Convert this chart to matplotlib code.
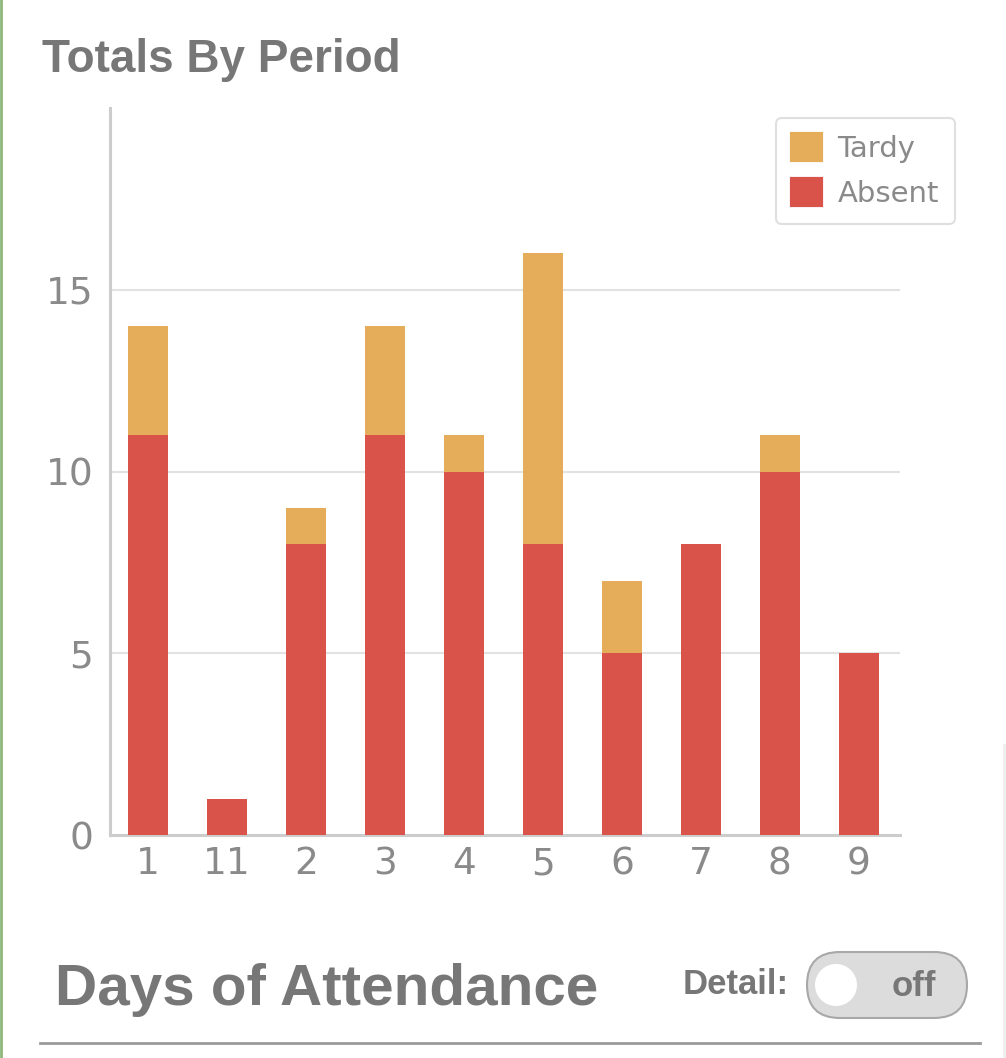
import matplotlib
matplotlib.use("Agg")
import matplotlib.pyplot as plt
from matplotlib.patches import FancyBboxPatch, Circle, Patch
from matplotlib.lines import Line2D

categories = ['1', '11', '2', '3', '4', '5', '6', '7', '8', '9']
absent = [11, 1, 8, 11, 10, 8, 5, 8, 10, 5]
tardy = [3, 0, 1, 3, 1, 8, 2, 0, 1, 0]
yticks = [0, 5, 10, 15]

C_ABSENT = '#D9534A'
C_TARDY = '#E5AD5A'
GRAY_TXT = '#8a8a8a'
TITLE_C = '#777777'

W, H = 1006, 1058
fig = plt.figure(figsize=(W / 100, H / 100), dpi=100)

# overlay for page decorations in pixel coords
bg = fig.add_axes([0, 0, 1, 1], zorder=0)
bg.set_xlim(0, W)
bg.set_ylim(H, 0)
bg.axis('off')
bg.add_line(Line2D([1.5, 1.5], [0, H], color='#8fb67a', lw=2))
bg.add_line(Line2D([1004, 1004], [745, H], color='#eeeeee', lw=2))
bg.add_line(Line2D([40, 980], [1043, 1043], color='#9a9a9a', lw=2))
bg.text(42, 60, 'Totals By Period', fontsize=33, fontweight='bold',
        color=TITLE_C, family='Liberation Sans', ha='left', va='center')
bg.text(55, 990, 'Days of Attendance', fontsize=42, fontweight='bold',
        color=TITLE_C, family='Liberation Sans', ha='left', va='center')
bg.text(683, 985, 'Detail:', fontsize=25, fontweight='bold',
        color=TITLE_C, family='Liberation Sans', ha='left', va='center')
tog = FancyBboxPatch((807, 952), 160, 66, boxstyle='round,pad=0,rounding_size=33',
                     facecolor='#dcdcdc', edgecolor='#a8a8a8', lw=1.5)
bg.add_patch(tog)
bg.add_patch(Circle((836, 985), 21, facecolor='white', edgecolor='none'))
bg.text(914, 987, 'off', fontsize=25, fontweight='bold', color=TITLE_C,
        family='Liberation Sans', ha='center', va='center')

ax = fig.add_axes([110 / W, 1 - 835 / H, 790 / W, (835 - 108) / H], zorder=1)
ax.patch.set_alpha(0)
x = list(range(len(categories)))
ax.bar(x, absent, width=0.5, color=C_ABSENT, label='Absent', zorder=3)
ax.bar(x, tardy, width=0.5, bottom=absent, color=C_TARDY, label='Tardy', zorder=3)

ax.set_xlim(-0.48, 9.52)
ax.set_ylim(0, 20)
ax.set_xticks(x)
ax.set_xticklabels(categories)
ax.set_yticks(yticks)
for yv in yticks[1:]:
    ax.axhline(yv, color='#e2e2e2', lw=1.5, zorder=1)
for s in ['top', 'right']:
    ax.spines[s].set_visible(False)
for s in ['left', 'bottom']:
    ax.spines[s].set_color('#cccccc')
    ax.spines[s].set_linewidth(2.2)
ax.tick_params(axis='both', length=0, labelsize=27, labelcolor=GRAY_TXT)
ax.tick_params(axis='x', pad=8)
ax.tick_params(axis='y', pad=12)

handles = [Patch(facecolor=C_TARDY, edgecolor=C_TARDY, lw=3, joinstyle='round', label='Tardy'),
           Patch(facecolor=C_ABSENT, edgecolor=C_ABSENT, lw=3, joinstyle='round', label='Absent')]
leg = fig.legend(handles=handles, loc='upper right', bbox_to_anchor=(955 / W, 1 - 118 / H),
                 borderaxespad=0, fontsize=21, frameon=True, fancybox=True,
                 handlelength=1.0, handleheight=1.0, handletextpad=0.55,
                 labelspacing=0.55, borderpad=0.55, labelcolor=GRAY_TXT)
leg.get_frame().set_edgecolor('#d8d8d8')
leg.get_frame().set_linewidth(1.5)

fig.savefig('out.png', dpi=100)
